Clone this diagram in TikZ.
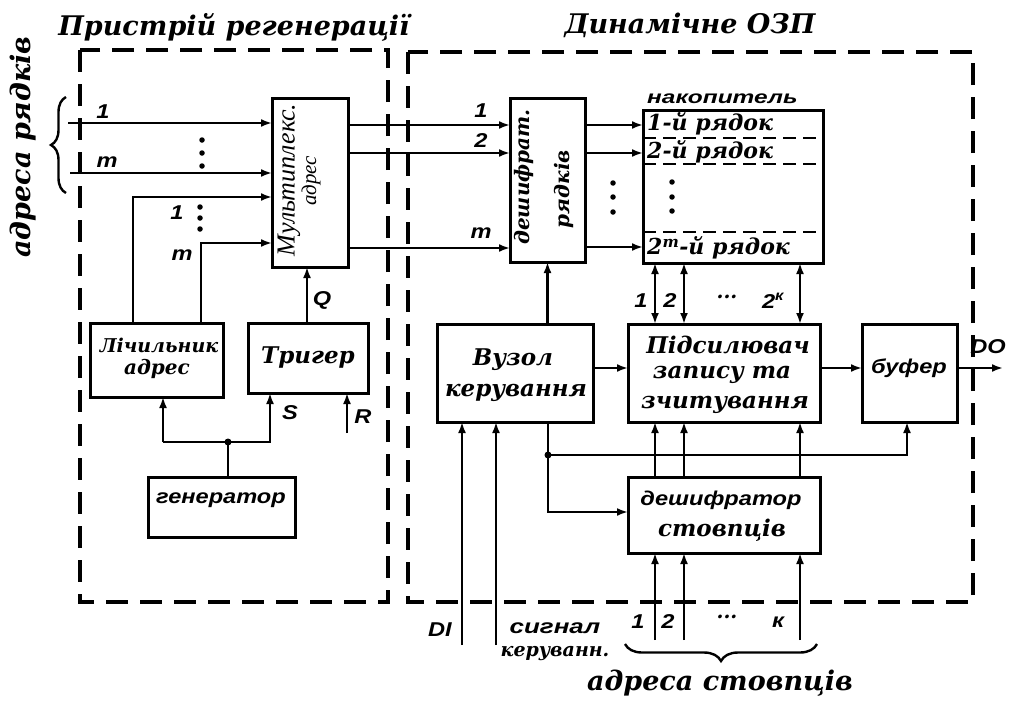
\documentclass[tikz,border=0pt]{standalone}
\usepackage{fontspec}
\setmainfont{DejaVu Serif}
\newfontfamily\hwfont{Liberation Sans}[FakeStretch=1.18]
\newfontfamily\mxfont{Liberation Serif}
\usetikzlibrary{arrows.meta,decorations.pathreplacing,calc}
\tikzset{
  blk/.style={draw, line width=3pt, rectangle, inner sep=0pt, outer sep=0pt},
  conn/.style={line width=2.7pt},
  arr/.style={conn, -{Latex[length=11pt,width=8pt]}},
  barr/.style={conn, {Latex[length=11pt,width=8pt]}-{Latex[length=11pt,width=8pt]}},
  frame/.style={line width=3.5pt, dash pattern=on 22pt off 12pt},
  sepline/.style={line width=2.8pt, dash pattern=on 13pt off 7pt},
  sl/.style={font=\bfseries\itshape\fontsize{#1}{#1}\selectfont, inner sep=0pt},
  sl/.default=22,
  hw/.style={font=\hwfont\bfseries\itshape\fontsize{#1}{#1}\selectfont, inner sep=0pt},
  hw/.default=20,
  dotc/.style={circle, fill, inner sep=0pt, minimum size=5.5pt},
  jdot/.style={circle, fill, inner sep=0pt, minimum size=7pt},
}
\begin{document}
\begin{tikzpicture}[x=1pt,y=-1pt]
\useasboundingbox (0,0) rectangle (1011,707);
\fill[white] (0,0) rectangle (1011,707);

% titles
\node[sl=27] (t1) at (234,27) {Пристрій регенерації};
\node[sl=27] (t2) at (690,25) {Динамічне ОЗП};
\node[sl=27, rotate=90] (t3) at (23,147) {адреса рядків};
\node[sl=27] (t4) at (720,683) {адреса стовпців};

% dashed frames
\draw[frame] (80,50) rectangle (388,602);
\draw[frame] (408,52) rectangle (973,602);

% blocks
\node[blk, minimum width=76pt, minimum height=169pt] (mux) at (310,182.5) {};
\node[blk, minimum width=133pt, minimum height=74pt] (cnt) at (156.5,360) {};
\node[blk, minimum width=120pt, minimum height=70pt] (trg) at (308,358) {};
\node[blk, minimum width=147pt, minimum height=60pt] (gen) at (221.5,507) {};
\node[blk, minimum width=75pt, minimum height=164pt] (dec) at (547.5,180) {};
\node[blk, minimum width=180pt, minimum height=153pt] (sto) at (733,186.5) {};
\node[blk, minimum width=156pt, minimum height=98pt] (ctl) at (515,373) {};
\node[blk, minimum width=192pt, minimum height=98pt] (amp) at (724,373) {};
\node[blk, minimum width=95pt, minimum height=98pt] (buf) at (909.5,373) {};
\node[blk, minimum width=192pt, minimum height=76pt] (dcol) at (724,515) {};

% block texts
\node[font=\mxfont\itshape\fontsize{26}{26}\selectfont, inner sep=0pt, rotate=90] (muxa) at (289,180) {Мультиплекс.};
\node[font=\mxfont\itshape\fontsize{21}{21}\selectfont, inner sep=0pt, rotate=90] (muxb) at (311,181) {адрес};
\node[sl=19] (cnta) at (159,345) {Лічильник};
\node[sl=20] (cntb) at (157,369) {адрес};
\node[sl=23] (trga) at (308,358) {Тригер};
\node[hw=20] (gena) at (221,500) {генератор};
\node[sl=20, rotate=90] (deca) at (524,177) {дешифрат.};
\node[sl=20, rotate=90] (decb) at (564,189) {рядків};
\node[hw=18, anchor=south west] (stol) at (647,104) {\scalebox{1.15}[1]{накопитель}};
\node[sl=22, anchor=west] (r1) at (647,124) {1-й рядок};
\node[sl=22, anchor=west] (r2) at (647,152) {2-й рядок};
\node[sl=22, anchor=west] (r3) at (647,248) {2\textsuperscript{m}-й рядок};
\node[sl=23] (ctla) at (513,360) {Вузол};
\node[sl=23] (ctlb) at (516,393) {керування};
\node[sl=23] (ampa) at (728,345) {Підсилювач};
\node[sl=23] (ampb) at (722,375) {запису та};
\node[sl=23] (ampc) at (725,405) {зчитування};
\node[hw=20] (bufa) at (909,368) {буфер};
\node[hw=20] (dcola) at (721,500) {дешифратор};
\node[sl=23] (dcolb) at (722,530) {стовпців};

% storage separators
\draw[sepline] (sto.west |- 0,138) -- (sto.east |- 0,138);
\draw[sepline] (sto.west |- 0,164) -- (sto.east |- 0,164);
\draw[sepline] (sto.west |- 0,232) -- (sto.east |- 0,232);
\node[dotc] (sd1) at (672,182) {};
\node[dotc] (sd2) at (672,197) {};
\node[dotc] (sd3) at (672,211) {};

% row address inputs
\coordinate (ra1) at (68,123);
\coordinate (ram) at (70,173);
\draw[arr] (ra1) -- (mux.west |- ra1);
\draw[arr] (ram) -- (mux.west |- ram);
\node[hw=20] (la1) at (103,112) {1};
\node[hw=20] (lam) at (107,162) {m};
\node[dotc] (ld1) at (202,140) {};
\node[dotc] (ld2) at (202,153) {};
\node[dotc] (ld3) at (202,166) {};
\draw[decorate, decoration={brace, amplitude=15pt}, line width=2.4pt] (66,193) -- (66,97);

% counter to mux
\coordinate (c1) at (133,197);
\coordinate (cm) at (201,243);
\draw[arr] (cnt.north -| c1) -- (c1) -- (mux.west |- c1);
\draw[arr] (cnt.north -| cm) -- (cm) -- (mux.west |- cm);
\node[hw=20] (lc1) at (177,213) {1};
\node[hw=20] (lcm) at (182,255) {m};
\node[dotc] (cd1) at (200,207) {};
\node[dotc] (cd2) at (200,218) {};
\node[dotc] (cd3) at (200,229) {};

% trigger Q to mux
\coordinate (qx) at (307,0);
\draw[arr] (trg.north -| qx) -- (mux.south -| qx);
\node[hw=20] (lq) at (322,300) {Q};

% generator
\coordinate (gj) at (228,442);
\coordinate (gl) at (163,442);
\coordinate (gr) at (270,442);
\draw[conn] (gen.north -| gj) -- (gj);
\draw[arr] (gl) -- (gr) -- (trg.south -| gr);
\draw[arr] (gl) -- (cnt.south -| gl);
\node[jdot] (gjd) at (gj) {};
\node[hw=20] (ls) at (290,413) {S};
\coordinate (rin) at (347,433);
\draw[arr] (rin) -- (trg.south -| rin);
\node[hw=20] (lr) at (363,417) {R};

% mux -> row decoder
\coordinate (m1) at (0,125);
\coordinate (m2) at (0,153);
\coordinate (m3) at (0,248);
\draw[arr] (mux.east |- m1) -- (dec.west |- m1);
\draw[arr] (mux.east |- m2) -- (dec.west |- m2);
\draw[arr] (mux.east |- m3) -- (dec.west |- m3);
\node[hw=20] (lm1) at (481,111) {1};
\node[hw=20] (lm2) at (481,141) {2};
\node[hw=20] (lm3) at (481,233) {m};

% row decoder -> storage
\draw[arr] (dec.east |- m1) -- (sto.west |- m1);
\draw[arr] (dec.east |- m2) -- (sto.west |- m2);
\coordinate (m4) at (0,247);
\draw[arr] (dec.east |- m4) -- (sto.west |- m4);
\node[dotc] (dd1) at (613,183) {};
\node[dotc] (dd2) at (613,197) {};
\node[dotc] (dd3) at (613,212) {};

% storage <-> amplifier
\coordinate (b1) at (655,0);
\coordinate (b2) at (684,0);
\coordinate (bk) at (800,0);
\draw[barr] (sto.south -| b1) -- (amp.north -| b1);
\draw[barr] (sto.south -| b2) -- (amp.north -| b2);
\draw[barr] (sto.south -| bk) -- (amp.north -| bk);
\node[hw=20] (lb1) at (641,301) {1};
\node[hw=20] (lb2) at (670,301) {2};
\node[sl=20] (lbd) at (727,297) {...};
\node[hw=20] (lbk) at (773,301) {2\textsuperscript{к}};

% control unit
\draw[arr] (ctl.north -| dec.south) -- (dec.south);
\coordinate (cy) at (0,368);
\draw[arr] (ctl.east |- cy) -- (amp.west |- cy);
\draw[arr] (amp.east |- cy) -- (buf.west |- cy);
\coordinate (dout) at (1003,368);
\draw[arr] (buf.east |- cy) -- (dout);
\node[hw=20] (ldo) at (988,347) {DO};

\coordinate (cj) at (548,455);
\coordinate (cd) at (548,512);
\coordinate (cb) at (907,455);
\draw[arr] (ctl.south -| cj) -- (cd) -- (dcol.west |- cd);
\draw[arr] (cj) -- (cb) -- (buf.south -| cb);
\node[jdot] (cjd) at (cj) {};

% column decoder -> amplifier
\draw[arr] (dcol.north -| b1) -- (amp.south -| b1);
\draw[arr] (dcol.north -| b2) -- (amp.south -| b2);
\draw[arr] (dcol.north -| bk) -- (amp.south -| bk);

% external inputs
\coordinate (di) at (462,645);
\coordinate (sg) at (496,645);
\draw[arr] (di) -- (ctl.south -| di);
\draw[arr] (sg) -- (ctl.south -| sg);
\node[hw=20] (ldi) at (440,630) {DI};
\node[hw=20] (lsg) at (555,628) {\scalebox{1.1}[1]{сигнал}};
\node[sl=19] (lsg2) at (555,654) {керуванн.};

\coordinate (k1) at (655,640);
\coordinate (k2) at (684,640);
\coordinate (kk) at (800,640);
\draw[arr] (k1) -- (dcol.south -| k1);
\draw[arr] (k2) -- (dcol.south -| k2);
\draw[arr] (kk) -- (dcol.south -| kk);
\node[hw=20] (lk1) at (638,622) {1};
\node[hw=20] (lk2) at (668,622) {2};
\node[sl=20] (lkd) at (727,617) {...};
\node[hw=20] (lkk) at (778,622) {к};
\draw[decorate, decoration={brace, amplitude=17pt}, line width=2.4pt] (817,644) -- (625,644);
\end{tikzpicture}
\end{document}
